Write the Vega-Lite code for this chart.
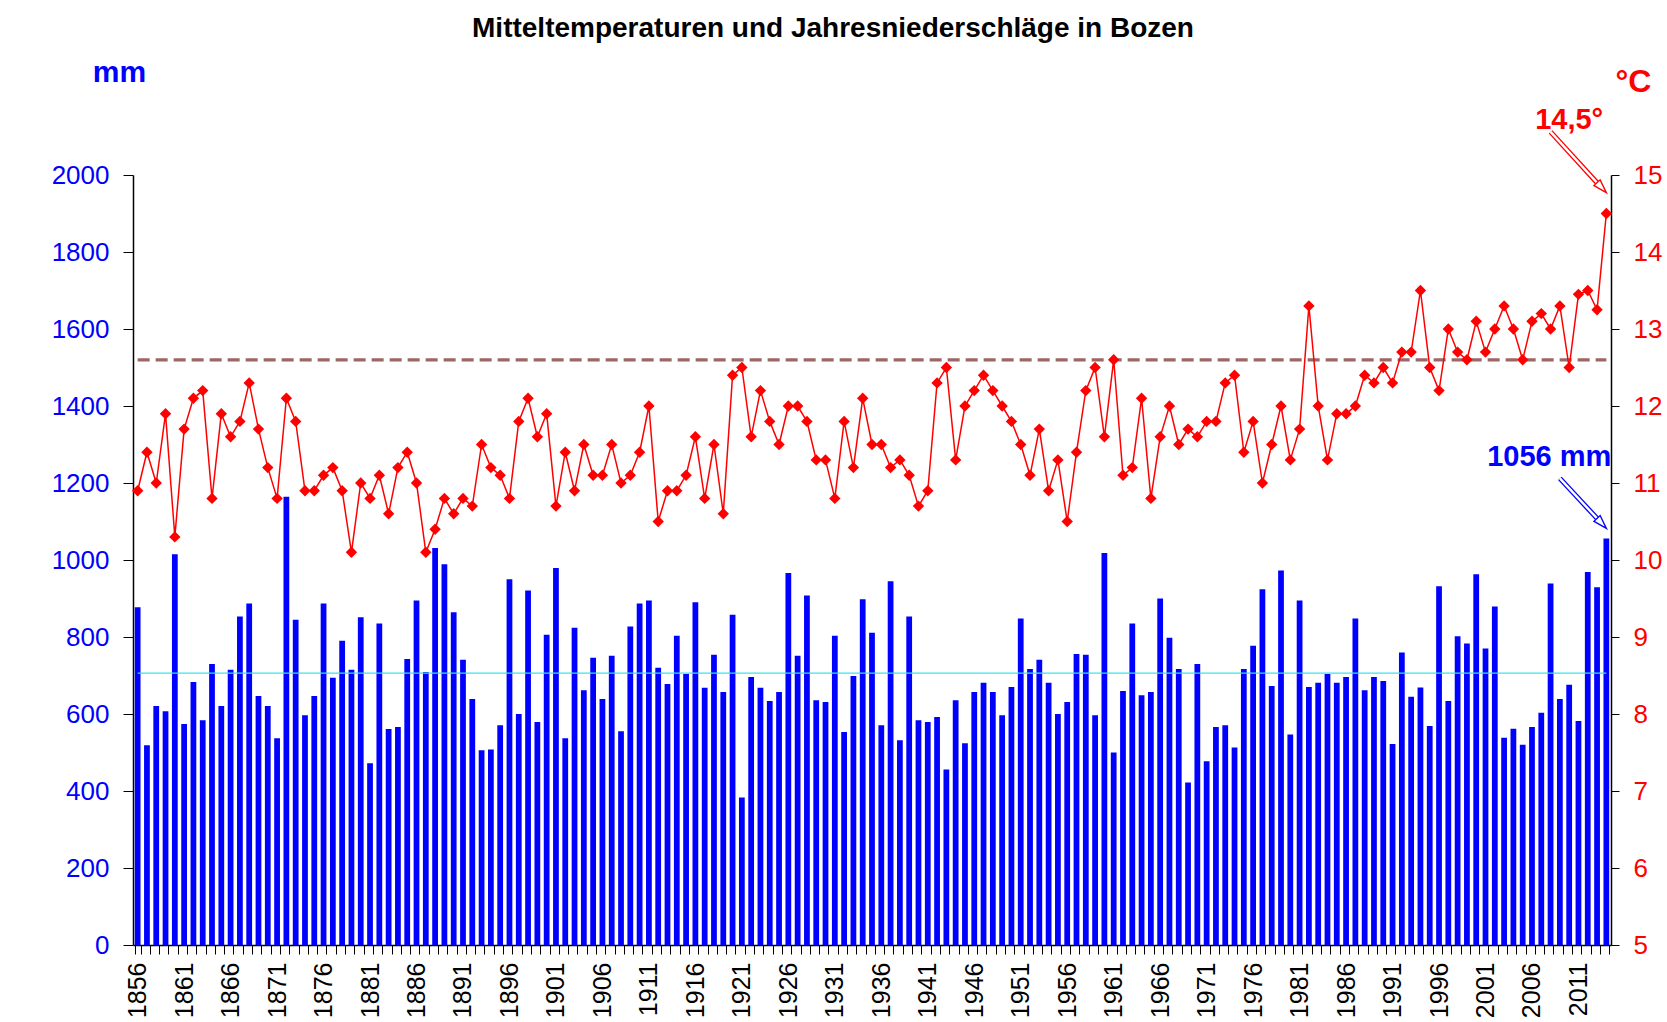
{
  "$schema": "https://vega.github.io/schema/vega-lite/v6.json",
  "width": 1478,
  "height": 770,
  "autosize": {"type": "none"},
  "padding": {"left": 133, "top": 175, "right": 56, "bottom": 77},
  "background": "white",
  "title": {
    "text": "Mitteltemperaturen und Jahresniederschläge in Bozen",
    "font": "Liberation Sans",
    "fontSize": 28,
    "fontWeight": "bold",
    "color": "black",
    "anchor": "middle",
    "frame": "group",
    "dx": -39,
    "offset": 14
  },
  "datasets": {
    "bz": [
      {"year":1856,"p":877,"t":10.9},{"year":1857,"p":519,"t":11.4},{"year":1858,"p":621,"t":11.0},{"year":1859,"p":607,"t":11.9},{"year":1860,"p":1015,"t":10.3},
      {"year":1861,"p":574,"t":11.7},{"year":1862,"p":683,"t":12.1},{"year":1863,"p":584,"t":12.2},{"year":1864,"p":730,"t":10.8},{"year":1865,"p":621,"t":11.9},
      {"year":1866,"p":715,"t":11.6},{"year":1867,"p":853,"t":11.8},{"year":1868,"p":887,"t":12.3},{"year":1869,"p":647,"t":11.7},{"year":1870,"p":621,"t":11.2},
      {"year":1871,"p":537,"t":10.8},{"year":1872,"p":1164,"t":12.1},{"year":1873,"p":845,"t":11.8},{"year":1874,"p":597,"t":10.9},{"year":1875,"p":647,"t":10.9},
      {"year":1876,"p":887,"t":11.1},{"year":1877,"p":694,"t":11.2},{"year":1878,"p":790,"t":10.9},{"year":1879,"p":715,"t":10.1},{"year":1880,"p":851,"t":11.0},
      {"year":1881,"p":472,"t":10.8},{"year":1882,"p":835,"t":11.1},{"year":1883,"p":561,"t":10.6},{"year":1884,"p":566,"t":11.2},{"year":1885,"p":743,"t":11.4},
      {"year":1886,"p":895,"t":11.0},{"year":1887,"p":709,"t":10.1},{"year":1888,"p":1031,"t":10.4},{"year":1889,"p":989,"t":10.8},{"year":1890,"p":864,"t":10.6},
      {"year":1891,"p":741,"t":10.8},{"year":1892,"p":639,"t":10.7},{"year":1893,"p":506,"t":11.5},{"year":1894,"p":508,"t":11.2},{"year":1895,"p":571,"t":11.1},
      {"year":1896,"p":950,"t":10.8},{"year":1897,"p":600,"t":11.8},{"year":1898,"p":921,"t":12.1},{"year":1899,"p":579,"t":11.6},{"year":1900,"p":806,"t":11.9},
      {"year":1901,"p":979,"t":10.7},{"year":1902,"p":537,"t":11.4},{"year":1903,"p":824,"t":10.9},{"year":1904,"p":662,"t":11.5},{"year":1905,"p":746,"t":11.1},
      {"year":1906,"p":639,"t":11.1},{"year":1907,"p":751,"t":11.5},{"year":1908,"p":555,"t":11.0},{"year":1909,"p":827,"t":11.1},{"year":1910,"p":887,"t":11.4},
      {"year":1911,"p":895,"t":12.0},{"year":1912,"p":720,"t":10.5},{"year":1913,"p":678,"t":10.9},{"year":1914,"p":803,"t":10.9},{"year":1915,"p":704,"t":11.1},
      {"year":1916,"p":890,"t":11.6},{"year":1917,"p":668,"t":10.8},{"year":1918,"p":754,"t":11.5},{"year":1919,"p":657,"t":10.6},{"year":1920,"p":858,"t":12.4},
      {"year":1921,"p":383,"t":12.5},{"year":1922,"p":696,"t":11.6},{"year":1923,"p":668,"t":12.2},{"year":1924,"p":634,"t":11.8},{"year":1925,"p":657,"t":11.5},
      {"year":1926,"p":966,"t":12.0},{"year":1927,"p":751,"t":12.0},{"year":1928,"p":908,"t":11.8},{"year":1929,"p":636,"t":11.3},{"year":1930,"p":631,"t":11.3},
      {"year":1931,"p":803,"t":10.8},{"year":1932,"p":553,"t":11.8},{"year":1933,"p":699,"t":11.2},{"year":1934,"p":898,"t":12.1},{"year":1935,"p":811,"t":11.5},
      {"year":1936,"p":571,"t":11.5},{"year":1937,"p":945,"t":11.2},{"year":1938,"p":532,"t":11.3},{"year":1939,"p":853,"t":11.1},{"year":1940,"p":584,"t":10.7},
      {"year":1941,"p":579,"t":10.9},{"year":1942,"p":592,"t":12.3},{"year":1943,"p":456,"t":12.5},{"year":1944,"p":636,"t":11.3},{"year":1945,"p":524,"t":12.0},
      {"year":1946,"p":657,"t":12.2},{"year":1947,"p":681,"t":12.4},{"year":1948,"p":657,"t":12.2},{"year":1949,"p":597,"t":12.0},{"year":1950,"p":670,"t":11.8},
      {"year":1951,"p":848,"t":11.5},{"year":1952,"p":717,"t":11.1},{"year":1953,"p":741,"t":11.7},{"year":1954,"p":681,"t":10.9},{"year":1955,"p":600,"t":11.3},
      {"year":1956,"p":631,"t":10.5},{"year":1957,"p":756,"t":11.4},{"year":1958,"p":754,"t":12.2},{"year":1959,"p":597,"t":12.5},{"year":1960,"p":1018,"t":11.6},
      {"year":1961,"p":500,"t":12.6},{"year":1962,"p":660,"t":11.1},{"year":1963,"p":835,"t":11.2},{"year":1964,"p":649,"t":12.1},{"year":1965,"p":657,"t":10.8},
      {"year":1966,"p":900,"t":11.6},{"year":1967,"p":798,"t":12.0},{"year":1968,"p":717,"t":11.5},{"year":1969,"p":422,"t":11.7},{"year":1970,"p":730,"t":11.6},
      {"year":1971,"p":477,"t":11.8},{"year":1972,"p":566,"t":11.8},{"year":1973,"p":571,"t":12.3},{"year":1974,"p":513,"t":12.4},{"year":1975,"p":717,"t":11.4},
      {"year":1976,"p":777,"t":11.8},{"year":1977,"p":924,"t":11.0},{"year":1978,"p":673,"t":11.5},{"year":1979,"p":973,"t":12.0},{"year":1980,"p":547,"t":11.3},
      {"year":1981,"p":895,"t":11.7},{"year":1982,"p":670,"t":13.3},{"year":1983,"p":681,"t":12.0},{"year":1984,"p":704,"t":11.3},{"year":1985,"p":681,"t":11.9},
      {"year":1986,"p":696,"t":11.9},{"year":1987,"p":848,"t":12.0},{"year":1988,"p":662,"t":12.4},{"year":1989,"p":696,"t":12.3},{"year":1990,"p":686,"t":12.5},
      {"year":1991,"p":522,"t":12.3},{"year":1992,"p":760,"t":12.7},{"year":1993,"p":645,"t":12.7},{"year":1994,"p":669,"t":13.5},{"year":1995,"p":569,"t":12.5},
      {"year":1996,"p":932,"t":12.2},{"year":1997,"p":634,"t":13.0},{"year":1998,"p":802,"t":12.7},{"year":1999,"p":783,"t":12.6},{"year":2000,"p":963,"t":13.1},
      {"year":2001,"p":770,"t":12.7},{"year":2002,"p":879,"t":13.0},{"year":2003,"p":538,"t":13.3},{"year":2004,"p":562,"t":13.0},{"year":2005,"p":520,"t":12.6},
      {"year":2006,"p":566,"t":13.1},{"year":2007,"p":603,"t":13.2},{"year":2008,"p":939,"t":13.0},{"year":2009,"p":639,"t":13.3},{"year":2010,"p":676,"t":12.5},
      {"year":2011,"p":582,"t":13.45},{"year":2012,"p":969,"t":13.5},{"year":2013,"p":929,"t":13.25},{"year":2014,"p":1056,"t":14.5}
    ]
  },
  "encoding": {
    "x": {
      "field": "year", "type": "ordinal",
      "scale": {"paddingInner": 0.38, "paddingOuter": 0.19},
      "axis": {
        "title": null, "labelAngle": 270, "labelAlign": "right", "labelBaseline": "middle",
        "labelFont": "Liberation Sans", "labelFontSize": 25, "labelColor": "black", "labelPadding": 8,
        "labelExpr": "(toNumber(datum.value) - 1856) % 5 == 0 ? datum.label : ''", "labelOverlap": false,
        "tickSize": 9, "tickColor": "black", "tickWidth": 1, "tickBand": "extent",
        "domainColor": "black", "domainWidth": 1.5, "grid": false
      }
    }
  },
  "layer": [
    {
      "data": {"name": "bz"},
      "mark": {"type": "bar", "color": "#0000FF"},
      "encoding": {
        "y": {
          "field": "p", "type": "quantitative",
          "scale": {"domain": [0, 2000], "nice": false},
          "axis": {
            "orient": "left", "values": [0,200,400,600,800,1000,1200,1400,1600,1800,2000], "format": "d",
            "title": "mm", "titleAngle": 0, "titleX": -14, "titleY": -103, "titleAlign": "center", "titleBaseline": "middle",
            "titleFont": "Liberation Sans", "titleFontSize": 30, "titleFontWeight": "bold", "titleColor": "#0000FF",
            "labelFont": "Liberation Sans", "labelFontSize": 26, "labelColor": "#0000FF", "labelPadding": 14,
            "tickSize": 10, "tickColor": "black", "domainColor": "black", "domainWidth": 1.5, "grid": false
          }
        }
      }
    },
    {
      "data": {"values": [{"year": 1856, "b": 2014, "v": 706}]},
      "mark": {"type": "rule", "color": "#3DE3EA", "strokeWidth": 1.3},
      "encoding": {
        "x2": {"field": "b"},
        "y": {"field": "v", "type": "quantitative", "scale": {"domain": [0, 2000], "nice": false}, "axis": null}
      }
    },
    {
      "data": {"values": [{"year": 2009, "b": 2013, "v1": 1212, "v2": 1108}]},
      "mark": {"type": "rule", "color": "#0000FF", "strokeWidth": 5},
      "encoding": {
        "x2": {"field": "b"},
        "y": {"field": "v1", "type": "quantitative", "scale": {"domain": [0, 2000], "nice": false}, "axis": null},
        "y2": {"field": "v2"}
      }
    },
    {
      "data": {"values": [{"year": 2009, "b": 2013, "v1": 1212, "v2": 1108}]},
      "mark": {"type": "rule", "color": "white", "strokeWidth": 2.4},
      "encoding": {
        "x2": {"field": "b"},
        "y": {"field": "v1", "type": "quantitative", "scale": {"domain": [0, 2000], "nice": false}, "axis": null},
        "y2": {"field": "v2"}
      }
    },
    {
      "data": {"values": [{"year": 2013, "v": 1108}]},
      "mark": {"type": "point", "shape": "M0,-1.37L0.42,0L-0.42,0Z", "size": 400, "angle": 137, "filled": true, "fill": "white", "stroke": "#0000FF", "strokeWidth": 1.4, "opacity": 1},
      "encoding": {
        "y": {"field": "v", "type": "quantitative", "scale": {"domain": [0, 2000], "nice": false}, "axis": null}
      }
    },
    {
      "data": {"values": [{"year": 2014, "v": 1268, "label": "1056 mm"}]},
      "mark": {"type": "text", "align": "right", "baseline": "middle", "dx": 5, "font": "Liberation Sans", "fontSize": 29, "fontWeight": "bold", "color": "#0000FF"},
      "encoding": {
        "y": {"field": "v", "type": "quantitative", "scale": {"domain": [0, 2000], "nice": false}, "axis": null},
        "text": {"field": "label"}
      }
    },
    {
      "data": {"values": [{"year": 1856, "b": 2014, "v": 12.6}]},
      "mark": {"type": "rule", "color": "#9E6565", "strokeWidth": 3.2, "strokeDash": [12, 6]},
      "encoding": {
        "x2": {"field": "b"},
        "y": {"field": "v", "type": "quantitative", "scale": {"domain": [5, 15], "nice": false, "zero": false}, "axis": null}
      }
    },
    {
      "data": {"name": "bz"},
      "mark": {"type": "line", "color": "#FF0000", "strokeWidth": 1.5},
      "encoding": {
        "y": {
          "field": "t", "type": "quantitative",
          "scale": {"domain": [5, 15], "nice": false, "zero": false},
          "axis": {
            "orient": "right", "values": [5,6,7,8,9,10,11,12,13,14,15],
            "title": "°C", "titleAngle": 0, "titleX": 22, "titleY": -94, "titleAlign": "center", "titleBaseline": "middle",
            "titleFont": "Liberation Sans", "titleFontSize": 32, "titleFontWeight": "bold", "titleColor": "#FF0000",
            "labelFont": "Liberation Sans", "labelFontSize": 26, "labelColor": "#FF0000", "labelPadding": 14,
            "tickSize": 8, "tickColor": "black", "domainColor": "black", "domainWidth": 1.5, "grid": false
          }
        }
      }
    },
    {
      "data": {"name": "bz"},
      "mark": {"type": "point", "shape": "diamond", "filled": true, "color": "#FF0000", "size": 130, "opacity": 1},
      "encoding": {
        "y": {"field": "t", "type": "quantitative", "scale": {"domain": [5, 15], "nice": false, "zero": false}, "axis": null}
      }
    },
    {
      "data": {"values": [{"year": 2008, "b": 2013, "v1": 15.56, "v2": 14.9}]},
      "mark": {"type": "rule", "color": "#FF0000", "strokeWidth": 5},
      "encoding": {
        "x2": {"field": "b"},
        "y": {"field": "v1", "type": "quantitative", "scale": {"domain": [5, 15], "nice": false, "zero": false}, "axis": null},
        "y2": {"field": "v2"}
      }
    },
    {
      "data": {"values": [{"year": 2008, "b": 2013, "v1": 15.56, "v2": 14.9}]},
      "mark": {"type": "rule", "color": "white", "strokeWidth": 2.4},
      "encoding": {
        "x2": {"field": "b"},
        "y": {"field": "v1", "type": "quantitative", "scale": {"domain": [5, 15], "nice": false, "zero": false}, "axis": null},
        "y2": {"field": "v2"}
      }
    },
    {
      "data": {"values": [{"year": 2013, "v": 14.9}]},
      "mark": {"type": "point", "shape": "M0,-1.37L0.42,0L-0.42,0Z", "size": 400, "angle": 137, "filled": true, "fill": "white", "stroke": "#FF0000", "strokeWidth": 1.4, "opacity": 1},
      "encoding": {
        "y": {"field": "v", "type": "quantitative", "scale": {"domain": [5, 15], "nice": false, "zero": false}, "axis": null}
      }
    },
    {
      "data": {"values": [{"year": 2010, "v": 15.72, "label": "14,5°"}]},
      "mark": {"type": "text", "align": "center", "baseline": "middle", "font": "Liberation Sans", "fontSize": 29, "fontWeight": "bold", "color": "#FF0000"},
      "encoding": {
        "y": {"field": "v", "type": "quantitative", "scale": {"domain": [5, 15], "nice": false, "zero": false}, "axis": null},
        "text": {"field": "label"}
      }
    }
  ],
  "resolve": {"scale": {"y": "independent"}},
  "config": {
    "view": {"stroke": null},
    "font": "Liberation Sans"
  }
}
